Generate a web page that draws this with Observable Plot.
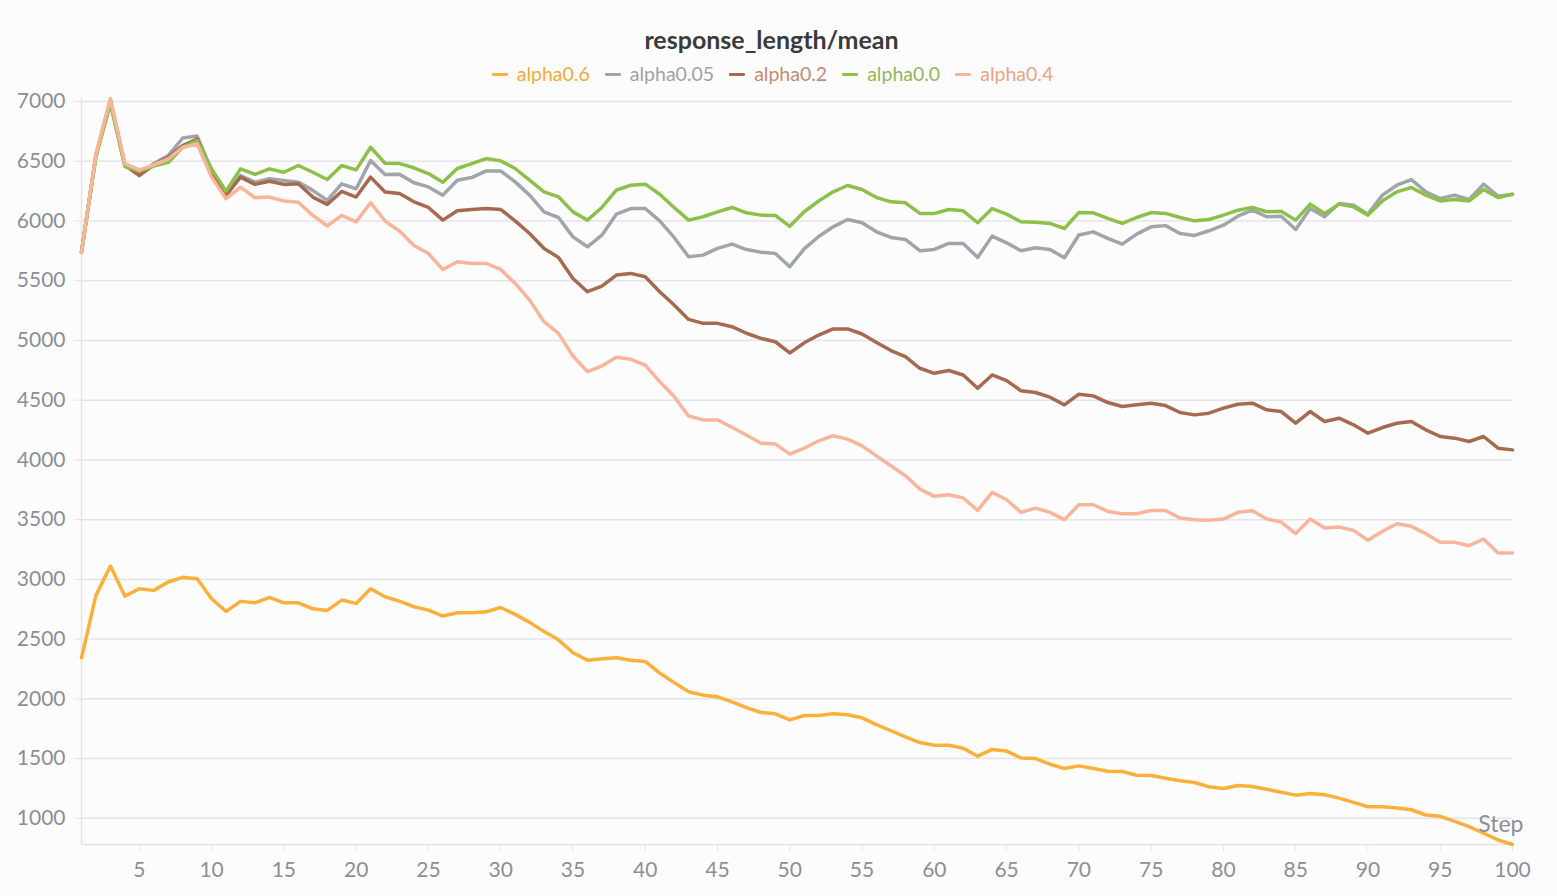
<!DOCTYPE html>
<html>
<head>
<meta charset="utf-8">
<script src="https://cdn.jsdelivr.net/npm/d3@7"></script>
<script src="https://cdn.jsdelivr.net/npm/@observablehq/plot@0.6"></script>
<style>
  body { margin: 0; background: #fdfcfd; font-family: Lato, "Noto Sans", sans-serif; }
  #header { position: relative; width: 1557px; height: 88px; }
  #title { position: absolute; top: 23px; left: 0; width: 1543px; text-align: center; font-weight: 700; font-size: 25px; line-height: 32px; color: #3a3a3c; }
  #legend { position: absolute; top: 61px; left: 0; width: 1545px; display: flex; justify-content: center; font-size: 19.5px; line-height: 26px; }
  .item { display: flex; align-items: center; margin: 0 7.5px; }
  .sw { width: 16px; height: 3px; margin-right: 9px; border-radius: 1px; }
</style>
</head>
<body>
<div id="header">
  <div id="title">response_length/mean</div>
  <div id="legend"></div>
</div>
<div id="chart"></div>
<script>
const steps = d3.range(1, 101);
const seriesNames = ["alpha0.6", "alpha0.05", "alpha0.2", "alpha0.0", "alpha0.4"];
const lineColors = ["#fbb03b", "#a0a5ac", "#a66a4e", "#8cc04b", "#f8b59a"];
const textColors = ["#f4a93a", "#9da1a8", "#c58b70", "#8fb75e", "#efa385"];
const yTicks = [1000, 1500, 2000, 2500, 3000, 3500, 4000, 4500, 5000, 5500, 6000, 6500, 7000];
const xTicks = [5, 10, 15, 20, 25, 30, 35, 40, 45, 50, 55, 60, 65, 70, 75, 80, 85, 90, 95, 100];

const alpha06 = [2344,2866,3112,2860,2922,2908,2978,3017,3006,2838,
  2732,2816,2804,2849,2804,2804,2754,2740,2827,2799,
  2922,2855,2818,2771,2743,2693,2721,2721,2729,2765,
  2707,2640,2563,2494,2386,2324,2335,2344,2324,2313,
  2216,2136,2060,2031,2017,1975,1926,1886,1875,1824,
  1861,1861,1875,1867,1841,1784,1733,1682,1634,1611,
  1611,1586,1520,1577,1563,1505,1500,1453,1417,1439,
  1417,1394,1392,1361,1358,1336,1314,1300,1264,1250,
  1275,1267,1244,1219,1194,1208,1197,1169,1133,1097,
  1097,1086,1072,1028,1017,975,931,875,819,781];

const alpha005 = [5740,6550,7000,6470,6400,6480,6547,6694,6711,6420,
  6214,6380,6325,6353,6339,6325,6256,6172,6311,6269,
  6506,6389,6390,6320,6285,6216,6341,6363,6419,6419,
  6327,6216,6076,6029,5867,5784,5881,6057,6104,6104,
  6001,5862,5700,5714,5770,5806,5761,5739,5728,5617,
  5766,5870,5951,6012,5985,5909,5862,5845,5751,5762,
  5812,5812,5695,5873,5817,5751,5776,5762,5692,5882,
  5909,5854,5806,5890,5951,5961,5895,5879,5918,5965,
  6040,6090,6035,6040,5929,6104,6035,6146,6132,6057,
  6216,6299,6347,6244,6188,6216,6180,6308,6208,6224];

const alpha02 = [5740,6550,7010,6465,6380,6470,6533,6630,6686,6420,
  6214,6367,6306,6333,6306,6311,6200,6139,6247,6200,
  6367,6242,6230,6160,6113,6007,6085,6096,6104,6096,
  6001,5895,5770,5695,5519,5408,5455,5547,5561,5533,
  5408,5297,5176,5143,5143,5115,5060,5017,4989,4895,
  4980,5045,5096,5096,5054,4982,4915,4865,4767,4725,
  4748,4711,4600,4711,4664,4578,4564,4525,4461,4550,
  4536,4480,4447,4461,4475,4455,4397,4377,4391,4433,
  4466,4475,4419,4405,4307,4405,4321,4349,4294,4224,
  4271,4307,4321,4252,4196,4182,4154,4196,4098,4084];

const alpha00 = [5740,6540,6980,6456,6417,6460,6490,6617,6672,6436,
  6250,6436,6389,6436,6408,6464,6408,6347,6464,6428,
  6617,6483,6480,6445,6397,6324,6439,6480,6522,6503,
  6439,6341,6244,6202,6076,6007,6113,6258,6299,6308,
  6224,6113,6007,6035,6076,6113,6068,6049,6046,5955,
  6077,6167,6244,6297,6263,6196,6160,6152,6063,6063,
  6096,6085,5985,6104,6057,5993,5990,5979,5937,6071,
  6068,6021,5979,6029,6070,6063,6029,6001,6012,6049,
  6090,6113,6077,6082,6007,6141,6063,6141,6118,6049,
  6168,6244,6280,6216,6168,6180,6168,6263,6196,6224];

const alpha04 = [5740,6560,7025,6480,6428,6470,6520,6617,6644,6367,
  6186,6283,6194,6200,6167,6156,6047,5958,6047,5992,
  6153,6000,5915,5795,5728,5594,5658,5644,5644,5594,
  5477,5338,5157,5059,4870,4739,4786,4859,4842,4794,
  4655,4530,4368,4335,4335,4273,4209,4139,4134,4049,
  4098,4160,4202,4174,4118,4034,3951,3867,3756,3695,
  3709,3681,3578,3728,3667,3561,3597,3561,3500,3625,
  3625,3569,3550,3550,3577,3577,3513,3500,3494,3505,
  3561,3575,3505,3480,3383,3505,3430,3438,3410,3327,
  3402,3466,3444,3383,3310,3310,3282,3338,3221,3221];

const seriesValues = [alpha06, alpha005, alpha02, alpha00, alpha04];

const rows = [];
seriesNames.forEach((name, i) => {
  seriesValues[i].forEach((v, j) => rows.push({series: name, step: steps[j], value: v}));
});

const yDomain = d3.extent(rows, d => d.value);

// legend
const legend = document.getElementById("legend");
seriesNames.forEach((name, i) => {
  const it = document.createElement("div");
  it.className = "item";
  const sw = document.createElement("span");
  sw.className = "sw";
  sw.style.background = lineColors[i];
  const tx = document.createElement("span");
  tx.textContent = name;
  tx.style.color = textColors[i];
  it.appendChild(sw); it.appendChild(tx);
  legend.appendChild(it);
});

const gridColor = "#e4e4e8";
const chart = Plot.plot({
  width: 1557,
  height: 808,
  marginLeft: 81,
  marginRight: 45,
  marginTop: 10,
  marginBottom: 52,
  style: {background: "transparent", fontFamily: "Lato, 'Noto Sans', sans-serif", fontSize: "21px", color: "#8a8f98"},
  x: {domain: d3.extent(steps)},
  y: {domain: yDomain},
  color: {domain: seriesNames, range: lineColors},
  marks: [
    Plot.gridY(yTicks, {stroke: gridColor, strokeOpacity: 1, strokeWidth: 1.5}),
    Plot.ruleX([steps[0]], {stroke: gridColor, strokeWidth: 1.5}),
    Plot.ruleY([yDomain[0]], {stroke: gridColor, strokeWidth: 1.5}),
    Plot.axisY(yTicks, {tickSize: 7, tickPadding: 9, stroke: gridColor, strokeOpacity: 1, fill: "#8a8f98", fontSize: 21, label: null, tickFormat: d => String(d)}),
    Plot.axisX(xTicks, {tickSize: 7, tickPadding: 11, stroke: gridColor, strokeOpacity: 1, fill: "#8a8f98", fontSize: 21, label: null, tickFormat: d => String(d)}),
    Plot.line(rows, {x: "step", y: "value", z: "series", stroke: "series", strokeWidth: 3.5, strokeLinejoin: "round", strokeLinecap: "round"}),
    Plot.text(["Step"], {frameAnchor: "bottom-right", dx: 11, dy: -13, fontSize: 23, fill: "#8a8f98"})
  ]
});
document.getElementById("chart").appendChild(chart);
</script>
</body>
</html>
